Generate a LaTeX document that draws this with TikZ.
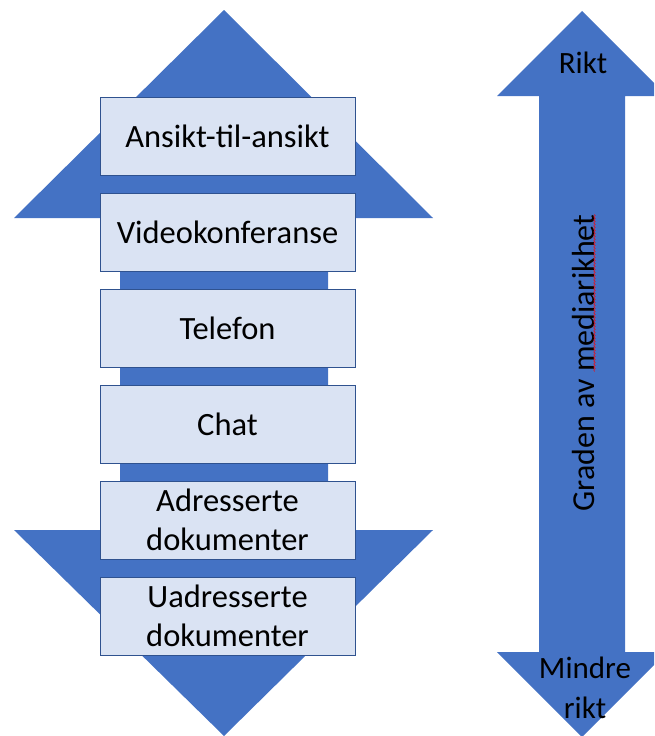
\documentclass[tikz,border=0pt]{standalone}
\usepackage{fontspec}
\setmainfont{Carlito}
\usetikzlibrary{decorations.pathmorphing}
\definecolor{arrowblue}{HTML}{4472C4}
\definecolor{boxfill}{HTML}{DAE3F3}
\definecolor{boxline}{HTML}{2F528F}
\tikzset{
  bigarrow/.style={fill=arrowblue, draw=none},
  mbox/.style={draw=boxline, line width=0.9pt, fill=boxfill, minimum width=255pt, minimum height=78pt, inner sep=0pt, align=center, font=\fontsize{32.5}{39}\selectfont},
  lbl/.style={align=center, font=\fontsize{31}{40}\selectfont, inner sep=0pt},
  vlbl/.style={inner sep=0pt, rotate=90, font=\fontsize{32}{36}\selectfont}
}
\begin{document}
\begin{tikzpicture}[x=1pt,y=-1pt]
\useasboundingbox (0,0) rectangle (654,736);
% left double arrow
\fill[bigarrow] (224,10) -- (433,218) -- (328,218) -- (328,530) -- (433,530) -- (224,736) -- (14,530) -- (120,530) -- (120,218) -- (14,218) -- cycle;
% right double arrow
\begin{scope}
\clip (0,0) rectangle (654,736);
\fill[bigarrow] (582,11) -- (667,96) -- (625,96) -- (625,652) -- (667,652) -- (582,737) -- (497,652) -- (539,652) -- (539,96) -- (497,96) -- cycle;
\end{scope}
% boxes
\node[mbox] (b1) at (227.5,136) {Ansikt-til-ansikt};
\node[mbox] (b2) at (227.5,232) {Videokonferanse};
\node[mbox] (b3) at (227.5,328) {Telefon};
\node[mbox] (b4) at (227.5,424) {Chat};
\node[mbox] (b5) at (227.5,520) {Adresserte\\dokumenter};
\node[mbox] (b6) at (227.5,616) {Uadresserte\\dokumenter};
% right labels
\node[lbl] (rikt) at (583,63) {Rikt};
\node[lbl] (mindre) at (585,688) {Mindre\\rikt};
\node[vlbl] (grad) at (583,363) {Graden av mediarikhet};
\draw[red, line width=0.5pt, decorate, decoration={snake, amplitude=0.8pt, segment length=3pt}] ([xshift=0pt]grad.south east) -- ([yshift=-157pt]grad.south east);
\end{tikzpicture}
\end{document}
